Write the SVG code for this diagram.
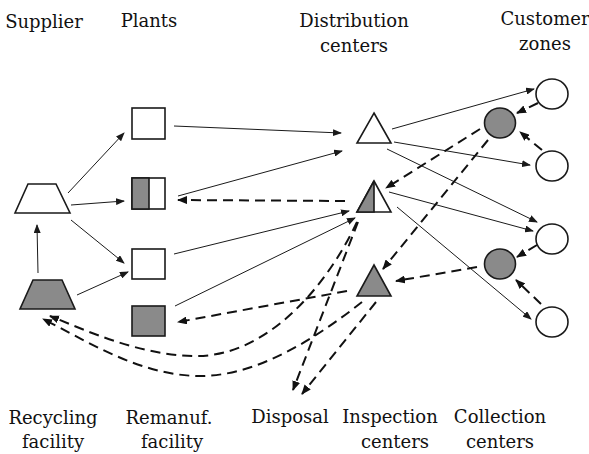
<svg xmlns="http://www.w3.org/2000/svg" width="589" height="454" viewBox="0 0 589 454">
  <defs>
    <style>
      text { font-family: "DejaVu Serif", serif; font-size: 18px; fill: #111; text-anchor: middle; }
      .shape { stroke: #1a1a1a; stroke-width: 1.6; stroke-linejoin: miter; }
      .white { fill: #fff; }
      .gray { fill: #8a8a8a; }
      .flow { fill: none; stroke: #1a1a1a; stroke-width: 1; marker-end: url(#head); }
      .back { fill: none; stroke: #111; stroke-width: 2; stroke-dasharray: 10 6; marker-end: url(#headBold); }
    </style>
    <marker id="head" markerUnits="userSpaceOnUse" markerWidth="9" markerHeight="7" refX="8" refY="3.5" orient="auto">
      <path d="M0,0 L9,3.5 L0,7 z" fill="#1a1a1a"/>
    </marker>
    <marker id="headBold" markerUnits="userSpaceOnUse" markerWidth="10" markerHeight="8" refX="9" refY="4" orient="auto">
      <path d="M0,0 L10,4 L0,8 z" fill="#111"/>
    </marker>
  </defs>

  <!-- column headings -->
  <g id="headings">
    <text x="44" y="28">Supplier</text>
    <text x="149" y="27">Plants</text>
    <text x="354" y="27">Distribution</text>
    <text x="354" y="52">centers</text>
    <text x="545" y="25">Customer</text>
    <text x="545" y="50">zones</text>
    <text x="53" y="424">Recycling</text>
    <text x="53" y="448">facility</text>
    <text x="169" y="424">Remanuf.</text>
    <text x="172" y="448">facility</text>
    <text x="290" y="423">Disposal</text>
    <text x="390" y="423">Inspection</text>
    <text x="395" y="448">centers</text>
    <text x="500" y="423">Collection</text>
    <text x="500" y="448">centers</text>
  </g>

  <!-- connectors -->
  <g id="connectors">
    <!-- forward flows -->
    <line class="flow" x1="68" y1="193" x2="124" y2="133"/>
    <line class="flow" x1="71" y1="205" x2="124" y2="201"/>
    <line class="flow" x1="71" y1="220" x2="124" y2="263"/>
    <line class="flow" x1="38" y1="273" x2="37" y2="225"/>
    <line class="flow" x1="77" y1="295" x2="128" y2="272"/>
    <line class="flow" x1="174" y1="126" x2="341" y2="133"/>
    <line class="flow" x1="178" y1="196" x2="342" y2="151"/>
    <line class="flow" x1="174" y1="254" x2="349" y2="211"/>
    <line class="flow" x1="175" y1="306" x2="355" y2="218"/>
    <line class="flow" x1="392" y1="129" x2="534" y2="89"/>
    <line class="flow" x1="394" y1="142" x2="530" y2="165"/>
    <line class="flow" x1="387" y1="149" x2="537" y2="222"/>
    <line class="flow" x1="389" y1="192" x2="533" y2="231"/>
    <line class="flow" x1="397" y1="207" x2="531" y2="319"/>
    <!-- reverse flows -->
    <line class="back" x1="538" y1="103" x2="517" y2="113"/>
    <line class="back" x1="542" y1="150" x2="520" y2="132"/>
    <line class="back" x1="480" y1="129" x2="386" y2="188"/>
    <line class="back" x1="488" y1="140" x2="383" y2="269"/>
    <line class="back" x1="537" y1="245" x2="517" y2="257"/>
    <line class="back" x1="541" y1="304" x2="516" y2="280"/>
    <line class="back" x1="477" y1="267" x2="396" y2="281"/>
    <line class="back" x1="345" y1="201" x2="178" y2="200"/>
    <line class="back" x1="347" y1="291" x2="178" y2="322"/>
    <path class="back" d="M357,222 C325,290 265,356 197,356 C140,356 85,330 50,316"/>
    <path class="back" d="M362,302 C320,335 260,376 200,376 C140,376 85,340 43,319"/>
    <line class="back" x1="358" y1="222" x2="293" y2="390"/>
    <line class="back" x1="376" y1="302" x2="302" y2="394"/>
  </g>

  <!-- supply side -->
  <g id="supplier">
    <polygon class="shape white" points="28,184 56,184 70,213 15,213"/>
  </g>
  <g id="recycling">
    <polygon class="shape gray" points="33,280 62,280 75,309 20,309"/>
  </g>
  <g id="plant1">
    <rect class="shape white" x="132" y="108" width="33" height="31"/>
  </g>
  <g id="plant2">
    <rect class="shape white" x="132" y="178" width="33" height="31"/>
    <rect class="shape gray" x="132" y="178" width="17" height="31"/>
  </g>
  <g id="plant3">
    <rect class="shape white" x="132" y="249" width="33" height="30"/>
  </g>
  <g id="remanuf">
    <rect class="shape gray" x="132" y="306" width="33" height="30"/>
  </g>

  <!-- distribution and inspection -->
  <g id="dc1">
    <polygon class="shape white" points="374,113 391,143 357,143"/>
  </g>
  <g id="dc2">
    <polygon class="shape white" points="374,181 391,212 357,212"/>
    <polygon class="shape gray" points="374,181 374,212 357,212"/>
  </g>
  <g id="inspection">
    <polygon class="shape gray" points="374,265 391,296 357,296"/>
  </g>

  <!-- customers and collection -->
  <g id="customer1"><ellipse class="shape white" cx="552" cy="94" rx="16" ry="15"/></g>
  <g id="customer2"><ellipse class="shape white" cx="552" cy="166" rx="16" ry="15"/></g>
  <g id="customer3"><ellipse class="shape white" cx="552" cy="239" rx="16" ry="15"/></g>
  <g id="customer4"><ellipse class="shape white" cx="552" cy="322" rx="16" ry="15"/></g>
  <g id="collection1"><ellipse class="shape gray" cx="500" cy="123" rx="15.5" ry="15"/></g>
  <g id="collection2"><ellipse class="shape gray" cx="500" cy="264" rx="15.5" ry="15"/></g>
</svg>
